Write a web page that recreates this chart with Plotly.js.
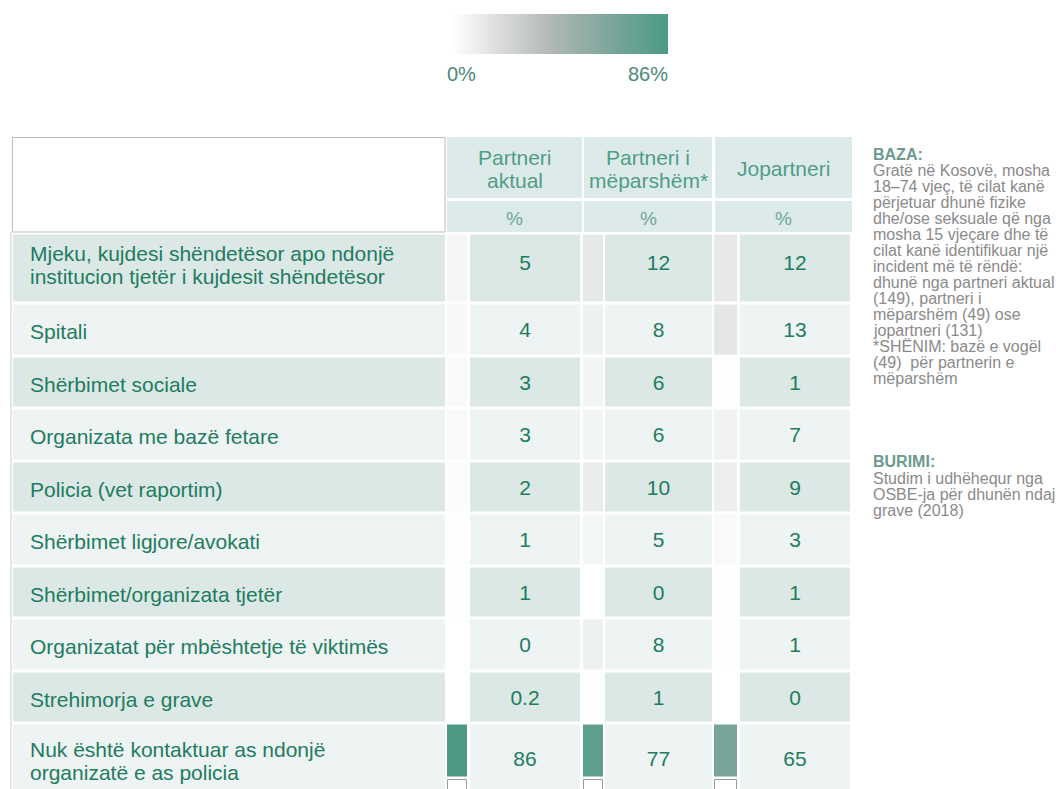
<!DOCTYPE html>
<html><head><meta charset="utf-8">
<script src="https://cdn.plot.ly/plotly-3.0.1.min.js"></script>
<style>html,body{margin:0;padding:0;background:#fff}#chart{width:1056px;height:789px}</style>
</head><body><div id="chart"></div>
<script>
// ---------------- DATA ----------------
const categories = [
  'Mjeku, kujdesi shëndetësor apo ndonjë<br>institucion tjetër i kujdesit shëndetësor',
  'Spitali',
  'Shërbimet sociale',
  'Organizata me bazë fetare',
  'Policia (vet raportim)',
  'Shërbimet ligjore/avokati',
  'Shërbimet/organizata tjetër',
  'Organizatat për mbështetje të viktimës',
  'Strehimorja e grave',
  'Nuk është kontaktuar as ndonjë<br>organizatë e as policia'
];
const partneriAktual    = [5, 4, 3, 3, 2, 1, 1, 0, 0.2, 86];
const partneriMeparshem = [12, 8, 6, 6, 10, 5, 0, 8, 1, 77];
const jopartneri        = [12, 13, 1, 7, 9, 3, 1, 1, 0, 65];
const columnHeaders = ['Partneri<br>aktual', 'Partneri i<br>mëparshëm*', 'Jopartneri'];
const unitLabels = ['%', '%', '%'];
const scaleMin = 0, scaleMax = 86;
const scaleLabels = ['0%', '86%'];
const notesBazaTitle = 'BAZA:';
const notesBaza = [
  'Gratë në Kosovë, mosha', '18–74 vjeç, të cilat kanë', 'përjetuar dhunë fizike',
  'dhe/ose seksuale që nga', 'mosha 15 vjeçare dhe të', 'cilat kanë identifikuar një',
  'incident më të rëndë:', 'dhunë nga partneri aktual', '(149), partneri i',
  'mëparshëm (49) ose', 'jopartneri (131)', '*SHËNIM: bazë e vogël',
  '(49)  për partnerin e', 'mëparshëm'
];
const notesBurimiTitle = 'BURIMI:';
const notesBurimi = ['Studim i udhëhequr nga', 'OSBE-ja për dhunën ndaj', 'grave (2018)'];

// ---------------- LAYOUT GEOMETRY / STYLE ----------------
const W = 1056, H = 789;
const FONT = 'Liberation Sans, Arial, sans-serif';
const TEXT_DARK = '#217c60', HEAD_COL = '#529c88', UNIT_COL = '#6ea898';
const labelX = [13, 445];
const barX  = [[447, 467], [583, 603], [714, 737]];
const cellX = [[470, 580], [605, 712], [740, 850]];
const headX = [[447, 582], [584, 712], [715, 852]];
const head1Y = [137, 198], head2Y = [201, 232];
const bodyTop = 233.5;
const oneLineH = 52.5, twoLineH = 70, lastBgH = 82.5, lastBarH = 55;
const gap = 3;

const series = [partneriAktual, partneriMeparshem, jopartneri];
const n = categories.length;
const nLines = categories.map(c => c.split('<br>').length);

// row edges
const bgEdges = [bodyTop], barEdges = [bodyTop];
for (let i = 0; i < n; i++) {
  const h = nLines[i] > 1 ? twoLineH : oneLineH;
  const hb = (i === n - 1) ? lastBgH : h;
  const hh = (i === n - 1) ? lastBarH : h;
  bgEdges.push(bgEdges[i] + hb);
  barEdges.push(barEdges[i] + hh);
}
const rowCenter = i => (bgEdges[i] + bgEdges[i + 1]) / 2;
const textY = i => rowCenter(i) + (nLines[i] > 1 ? -4 : 2);

// background cells heatmap (alternating stripes)
const bgX = [labelX[0], labelX[1], cellX[0][0], cellX[0][1], cellX[1][0], cellX[1][1], cellX[2][0], cellX[2][1]];
const bgZ = categories.map((c, i) => { const p = i % 2 === 0 ? 1 : 0; return [p, null, p, null, p, null, p]; });

// heat bars heatmap
const heatX = [barX[0][0], barX[0][1], barX[1][0], barX[1][1], barX[2][0], barX[2][1]];
const heatZ = categories.map((c, i) => [series[0][i], null, series[1][i], null, series[2][i]]);

const colorscale = [[0, '#ffffff'], [0.45, '#b3b8b6'], [0.75, '#78a599'], [1, '#4c9a86']];

const traces = [
  {
    type: 'heatmap', x: bgX, y: bgEdges, z: bgZ, zmin: 0, zmax: 1,
    colorscale: [[0, '#eef3f3'], [1, '#dbe8e6']], showscale: false,
    ygap: gap, hoverinfo: 'skip'
  },
  {
    type: 'heatmap', x: heatX, y: barEdges, z: heatZ, zmin: scaleMin, zmax: scaleMax,
    colorscale: colorscale, ygap: gap, hoverinfo: 'skip',
    colorbar: {
      orientation: 'h', thicknessmode: 'pixels', thickness: 40,
      lenmode: 'pixels', len: 216, x: 560 / W, xanchor: 'center',
      y: 1 - 14 / H, yanchor: 'top', xpad: 0, ypad: 0,
      outlinewidth: 0, showticklabels: false, ticks: ''
    }
  }
];

// value text trace
const vx = [], vy = [], vt = [];
series.forEach((s, j) => s.forEach((v, i) => {
  vx.push((cellX[j][0] + cellX[j][1]) / 2);
  vy.push(textY(i));
  vt.push(String(v));
}));
traces.push({
  type: 'scatter', mode: 'text', x: vx, y: vy, text: vt,
  textposition: 'middle center', cliponaxis: false, hoverinfo: 'skip',
  textfont: { family: FONT, size: 21, color: TEXT_DARK }, showlegend: false
});

const annotations = [];
function addText(txt, x, y, opts) {
  annotations.push(Object.assign({
    xref: 'x', yref: 'y', x: x, y: y, text: txt, showarrow: false,
    xanchor: 'center', yanchor: 'middle', borderpad: 0
  }, opts));
}
// row labels
categories.forEach((c, i) => {
  const lines = c.split('<br>');
  lines.forEach((ln, k) => {
    addText(ln, 29, textY(i) + (k - (lines.length - 1) / 2) * 23,
      { xanchor: 'left', font: { family: FONT, size: 21, color: TEXT_DARK } });
  });
});
// column headers
columnHeaders.forEach((hd, j) => {
  const lines = hd.split('<br>');
  const cx = (headX[j][0] + headX[j][1]) / 2;
  const cy = (head1Y[0] + head1Y[1]) / 2 + 1;
  lines.forEach((ln, k) => {
    addText(ln, cx, cy + (k - (lines.length - 1) / 2) * 23,
      { font: { family: FONT, size: 21, color: HEAD_COL } });
  });
  addText(unitLabels[j], cx, (head2Y[0] + head2Y[1]) / 2 + 1.5,
    { font: { family: FONT, size: 19, color: UNIT_COL } });
});
// scale labels
addText(scaleLabels[0], 461.5, 74, { font: { family: FONT, size: 20, color: '#4b8a78' } });
addText(scaleLabels[1], 648, 74, { font: { family: FONT, size: 20, color: '#4b8a78' } });
// notes
const noteFont = { family: FONT, size: 16, color: '#8a8a8a' };
const noteHead = { family: FONT, size: 16, color: '#6d9a8e', weight: 'bold' };
addText('<b>' + notesBazaTitle + '</b>', 872, 154, { xanchor: 'left', font: noteHead });
notesBaza.forEach((ln, k) => addText(ln, 872, 170.5 + k * 16, { xanchor: 'left', font: noteFont }));
addText('<b>' + notesBurimiTitle + '</b>', 872, 461, { xanchor: 'left', font: noteHead });
notesBurimi.forEach((ln, k) => addText(ln, 872, 478 + k * 16, { xanchor: 'left', font: noteFont }));

// shapes: header cells, top-left box, left border, cut-off boxes
const shapes = [];
headX.forEach(hx => {
  shapes.push({ type: 'rect', xref: 'x', yref: 'y', x0: hx[0], x1: hx[1], y0: head1Y[0], y1: head1Y[1], fillcolor: '#dcebe9', line: { width: 0 }, layer: 'below' });
  shapes.push({ type: 'rect', xref: 'x', yref: 'y', x0: hx[0], x1: hx[1], y0: head2Y[0], y1: head2Y[1], fillcolor: '#dcebe9', line: { width: 0 }, layer: 'below' });
});
shapes.push({ type: 'rect', xref: 'x', yref: 'y', x0: 12.5, x1: 445, y0: 137.5, y1: 232, fillcolor: '#ffffff', line: { color: '#bdbdbd', width: 1 } });
shapes.push({ type: 'line', xref: 'x', yref: 'y', x0: 11, x1: 11, y0: 232, y1: H, line: { color: '#cccccc', width: 1 } });
barX.forEach(bx => {
  shapes.push({ type: 'rect', xref: 'x', yref: 'y', x0: bx[0] + 0.5, x1: bx[1] - 0.5, y0: barEdges[n] + 1, y1: H + 5, fillcolor: '#ffffff', line: { color: '#9a9a9a', width: 1 } });
});

const layout = {
  width: W, height: H, margin: { l: 0, r: 0, t: 0, b: 0 },
  paper_bgcolor: '#ffffff', plot_bgcolor: '#ffffff',
  xaxis: { range: [0, W], visible: false, fixedrange: true },
  yaxis: { range: [H, 0], visible: false, fixedrange: true },
  showlegend: false, annotations: annotations, shapes: shapes,
  font: { family: FONT }
};
Plotly.newPlot('chart', traces, layout, { displayModeBar: false, staticPlot: true });
</script></body></html>
